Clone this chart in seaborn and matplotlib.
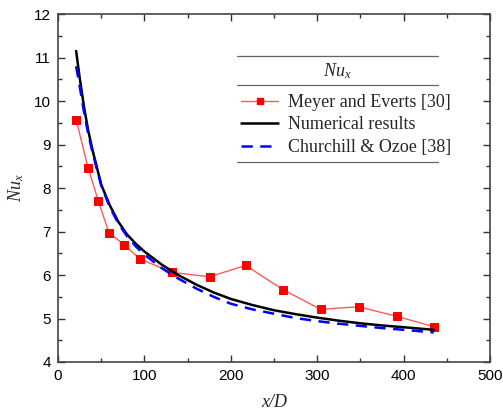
import matplotlib
matplotlib.use("Agg")
import matplotlib.pyplot as plt
import seaborn as sns
import pandas as pd
from matplotlib.lines import Line2D

# Data
meyer_x = [21.2, 34.7, 46.7, 59.0, 76.4, 94.9, 131.9, 175.5, 217.2, 260.8, 304.0, 348.0, 392.0, 435.6]
meyer_y = [9.56, 8.47, 7.70, 6.97, 6.70, 6.37, 6.06, 5.96, 6.22, 5.66, 5.21, 5.27, 5.05, 4.81]

num_x = [21, 25, 30, 35, 40, 50, 60, 70, 80, 90, 100, 120, 140, 160, 180, 200, 225, 250, 275, 300, 325, 350, 375, 400, 435]
num_y = [11.15, 10.55, 9.88, 9.32, 8.87, 8.08, 7.60, 7.22, 6.93, 6.72, 6.54, 6.24, 5.99, 5.78, 5.60, 5.45, 5.31, 5.19, 5.10, 5.02, 4.95, 4.89, 4.84, 4.80, 4.74]

ch_x = [21, 25, 30, 35, 40, 50, 60, 70, 80, 90, 100, 120, 140, 160, 180, 200, 225, 250, 275, 300, 325, 350, 375, 400, 435]
ch_y = [10.80, 10.35, 9.76, 9.24, 8.82, 8.06, 7.56, 7.18, 6.89, 6.66, 6.47, 6.16, 5.91, 5.69, 5.50, 5.34, 5.21, 5.11, 5.01, 4.94, 4.88, 4.83, 4.78, 4.74, 4.68]

labels = ["Meyer and Everts [30]", "Numerical results", "Churchill & Ozoe [38]"]
x_ticks = [0, 100, 200, 300, 400, 500]
y_ticks = [4, 5, 6, 7, 8, 9, 10, 11, 12]

sns.set_style("ticks")
plt.rcParams['font.family'] = ['Liberation Sans', 'DejaVu Sans']
plt.rcParams['mathtext.fontset'] = 'custom'
plt.rcParams['mathtext.it'] = 'Liberation Serif:italic'
plt.rcParams['mathtext.rm'] = 'Liberation Serif'

fig = plt.figure(figsize=(5.03, 4.13), dpi=100)
ax = fig.add_axes([0.1153, 0.1235, 0.8587, 0.8425])

df_m = pd.DataFrame({"x": meyer_x, "y": meyer_y})
df_n = pd.DataFrame({"x": num_x, "y": num_y})
df_c = pd.DataFrame({"x": ch_x, "y": ch_y})

sns.lineplot(data=df_m, x="x", y="y", ax=ax, color="#ff5a5a", lw=1.0, marker="s",
             markersize=6, markerfacecolor="#ff0000", markeredgecolor="#ff0000", sort=False)
sns.lineplot(data=df_n, x="x", y="y", ax=ax, color="black", lw=1.8, sort=False)
sns.lineplot(data=df_c, x="x", y="y", ax=ax, color="#0000ff", lw=1.8, sort=False)
ax.lines[-1].set_dashes((4.5, 3))

ax.set_xlim(0, 500)
ax.set_ylim(4, 12)
ax.set_xticks(x_ticks)
ax.set_yticks(y_ticks)
ax.set_xticks([50, 150, 250, 350, 450], minor=True)
ax.set_yticks([4.5 + i for i in range(8)], minor=True)
ax.tick_params(which='both', direction='in', top=True, right=True, colors='#333333',
               labelcolor='black', labelsize=11)
ax.tick_params(which='major', length=5, width=1, pad=5)
ax.tick_params(which='minor', length=3, width=1)
for s in ax.spines.values():
    s.set_color('#444444')
    s.set_linewidth(1.2)

ax.set_xlabel("x/D", fontfamily='Liberation Serif', fontstyle='italic', fontsize=13, labelpad=8)
ax.set_ylabel(r"$Nu_x$", fontsize=13, labelpad=6)

handles = [
    Line2D([], [], color="#ff5a5a", lw=1.0, marker="s", markersize=5,
           markerfacecolor="#ff0000", markeredgecolor="#ff0000"),
    Line2D([], [], color="black", lw=1.8),
    Line2D([], [], color="#0000ff", lw=1.8, dashes=(4.5, 3)),
]
leg = ax.legend(handles, labels, loc='upper left', bbox_to_anchor=(0.406, 0.791),
                frameon=False, prop={'family': 'Liberation Serif', 'size': 13},
                handlelength=2.1, handletextpad=0.5, labelspacing=0.3, borderaxespad=0)
ax.text(0.647, 0.836, r"$Nu_x$", transform=ax.transAxes, ha='center', va='center', fontsize=13)
for yy in [0.879, 0.796, 0.575]:
    ax.plot([0.414, 0.880], [yy, yy], transform=ax.transAxes, color='#666666', lw=0.9, clip_on=False)

fig.savefig("out.png", dpi=100)
